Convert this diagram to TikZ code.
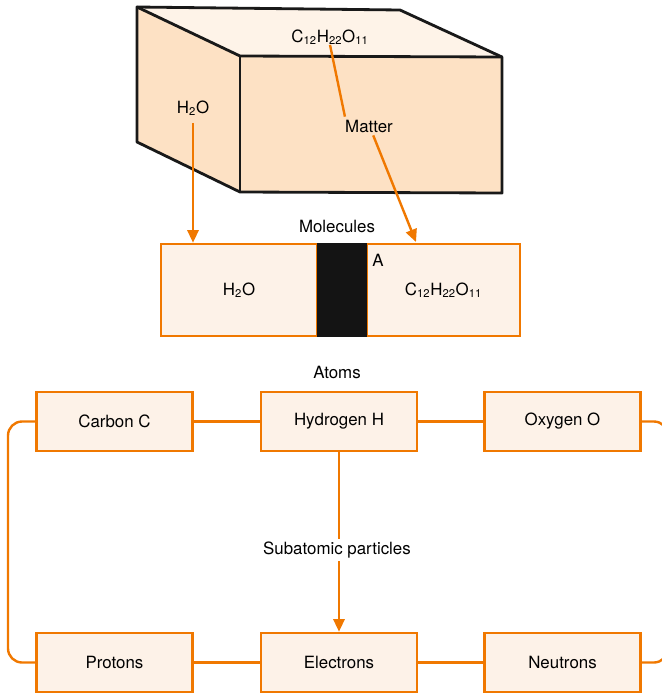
\documentclass[tikz,border=0pt]{standalone}
\usepackage{fontspec}
\setmainfont{TeX Gyre Heros}
\usepackage{tikz}
\usetikzlibrary{arrows.meta, positioning}
\definecolor{matorange}{HTML}{F07800}
\definecolor{paleface}{HTML}{FEF3E8}
\definecolor{peachface}{HTML}{FDE1C4}
\definecolor{boxfill}{HTML}{FDF2E8}
\tikzstyle{atombox} = [rectangle, draw=matorange, line width=1.8pt, fill=boxfill,
    minimum width=3.9cm, minimum height=1.475cm, text centered]
\tikzstyle{molbox} = [rectangle, draw=matorange, line width=1.8pt, fill=boxfill,
    minimum height=2.3cm, text centered]
\tikzstyle{tag} = [inner sep=2pt]
\tikzstyle{link} = [matorange, line width=1.7pt]
\tikzstyle{arrow} = [matorange, line width=1.7pt, -{Triangle[length=9pt, width=8pt]}]
\tikzstyle{edge} = [black!90, line width=2pt, line join=round]

\begin{document}
\begin{tikzpicture}[x=0.025cm, y=-0.025cm, font=\fontsize{12}{14}\selectfont]
  \useasboundingbox (0,0) rectangle (662,693);

  % the block of matter
  \fill[paleface]  (137,7) -- (400,10) -- (502,57) -- (240,56) -- cycle;
  \fill[peachface] (137,7) -- (240,56) -- (240,192) -- (137,142) -- cycle;
  \fill[peachface] (240,56) -- (502,57) -- (502,193) -- (240,192) -- cycle;
  \draw[edge] (137,7) -- (400,10) -- (502,57) -- (502,193) -- (240,192)
              -- (137,142) -- cycle;
  \draw[edge] (137,7) -- (240,56) -- (502,57);
  \draw[edge] (240,56) -- (240,192);

  \node (sugar)  [tag] at (330,37)  {C\textsubscript{12}H\textsubscript{22}O\textsubscript{11}};
  \node (water)  [tag] at (193,108) {H\textsubscript{2}O};
  \node (matter) [tag] at (369,126) {Matter};

  % molecules
  \node (molecules) [tag] at (337,226) {Molecules};
  \node (mh2o) [molbox, minimum width=3.9cm]   at (239,290) {H\textsubscript{2}O};
  \node (msugar) [molbox, minimum width=3.825cm] at (443.5,290)
        {C\textsubscript{12}H\textsubscript{22}O\textsubscript{11}};
  \node (bar)  [rectangle, fill=black!92, minimum width=1.25cm, minimum height=2.36cm,
                inner sep=0pt] at (342,290) {};
  \node (a) [tag] at (378,260) {A};

  \coordinate (wfoot) at ([yshift=-3pt]water.south);
  \coordinate (sugarhit) at (416,242);
  \draw[arrow] (wfoot) -- (wfoot |- mh2o.north);
  \draw[link] ([yshift=2pt]sugar.south) -- ([xshift=2pt]matter.north west);
  \draw[arrow] ([xshift=3pt]matter.south) -- (sugarhit);

  % atoms
  \node (atoms) [tag] at (337,372) {Atoms};
  \node (carbon)   [atombox] at (114.5,421.5) {Carbon C};
  \node (hydrogen) [atombox] at (339,421.5) {Hydrogen H};
  \node (oxygen)   [atombox] at (562.5,421.5) {Oxygen O};

  % subatomic particles
  \node (subatomic) [tag] at (337,550) {Subatomic particles};
  \node (protons)   [atombox] at (114.5,662.5) {Protons};
  \node (electrons) [atombox] at (339,662.5) {Electrons};
  \node (neutrons)  [atombox] at (562.5,662.5) {Neutrons};

  \draw[link] (carbon) -- (hydrogen);
  \draw[link] (hydrogen) -- (oxygen);
  \draw[link] (protons) -- (electrons);
  \draw[link] (electrons) -- (neutrons);
  \draw[link, rounded corners=10] (carbon.west) -| (8,540) |- (protons.west);
  \draw[link, rounded corners=10] (oxygen.east) -| (668,540) |- (neutrons.east);

  \draw[link] (hydrogen.south) -- (hydrogen.south |- subatomic.north);
  \draw[arrow] (electrons.north |- subatomic.south) -- (electrons.north);
\end{tikzpicture}
\end{document}
